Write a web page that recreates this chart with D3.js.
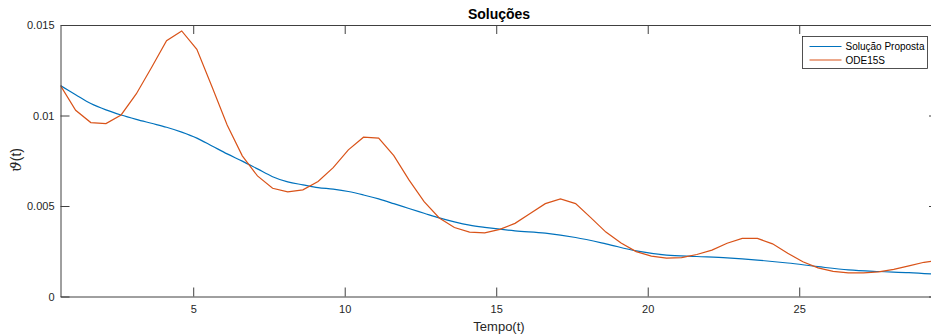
<!DOCTYPE html>
<html>
<head>
<meta charset="utf-8">
<script src="https://cdn.jsdelivr.net/npm/d3@7"></script>
<style>
  body { margin: 0; background: #fff; }
  text { font-family: "Liberation Sans", Arial, sans-serif; fill: #262626; }
</style>
</head>
<body>
<div id="chart"></div>
<script>
// time samples and values
var tOde = [0.62, 1.12, 1.62, 2.12, 2.62, 3.12, 3.62, 4.12, 4.62, 5.12, 5.62, 6.12, 6.62, 7.12, 7.62,
            8.12, 8.62, 9.12, 9.62, 10.12, 10.62, 11.12, 11.62, 12.12, 12.62, 13.12, 13.62, 14.12, 14.62,
            15.12, 15.62, 16.12, 16.62, 17.12, 17.62, 18.12, 18.62, 19.12, 19.62, 20.12, 20.62, 21.12,
            21.62, 22.12, 22.62, 23.12, 23.62, 24.12, 24.62, 25.12, 25.62, 26.12, 26.62, 27.12, 27.62,
            28.12, 28.62, 29.12, 29.4];
var ode15s = [0.01165, 0.01029, 0.00961, 0.00955, 0.01003, 0.01119, 0.01264, 0.01413, 0.01467, 0.01366,
              0.01159, 0.00948, 0.00777, 0.00666, 0.00598, 0.00578, 0.00589, 0.00635, 0.00712, 0.0081,
              0.0088, 0.00875, 0.00778, 0.00644, 0.00524, 0.00434, 0.00381, 0.00356, 0.00352, 0.00371,
              0.00404, 0.00459, 0.00513, 0.00539, 0.00513, 0.00436, 0.00356, 0.00295, 0.00248, 0.00223,
              0.00212, 0.00215, 0.00232, 0.00256, 0.00294, 0.00321, 0.00321, 0.00291, 0.00239, 0.00192,
              0.00158, 0.00139, 0.00131, 0.00131, 0.00136, 0.0015, 0.00169, 0.00189, 0.00195];

var tProp = [0.62, 1.12, 1.62, 2.12, 2.62, 3.12, 3.62, 4.12, 4.62, 5.12, 5.62, 6.12, 6.62, 7.12, 7.62,
             8.12, 8.62, 9.12, 9.62, 10.12, 10.62, 11.12, 11.62, 12.12, 12.62, 13.12, 13.62, 14.12, 14.62,
             15.62, 16.62, 17.62, 18.62, 19.62, 20.62, 21.62, 22.62, 23.62, 24.62, 25.62, 26.62, 27.62,
             28.62, 29.4];
var proposta = [0.01165, 0.01115, 0.01066, 0.01031, 0.01003, 0.00979, 0.00957, 0.00935, 0.00908, 0.00875,
                0.00832, 0.00788, 0.00748, 0.00705, 0.00662, 0.00633, 0.00617, 0.00602, 0.00593, 0.0058,
                0.00561, 0.00539, 0.00513, 0.00486, 0.0046, 0.00434, 0.00412, 0.00394, 0.00382, 0.00363,
                0.0035, 0.00326, 0.00291, 0.00252, 0.00229, 0.00221, 0.00213, 0.00201, 0.00185, 0.00165,
                0.00147, 0.00138, 0.00132, 0.00124];

var xTicks = [5, 10, 15, 20, 25];
var yTicks = [0, 0.005, 0.01, 0.015];
var yTickLabels = ["0", "0.005", "0.01", "0.015"];
var seriesNames = ["Solução Proposta", "ODE15S"];
var seriesColors = ["#0072BD", "#D95319"];

var W = 931, H = 336;
var plot = {left: 60.5, right: 938, top: 25, bottom: 296.5};

var x = d3.scaleLinear().domain([0.62, 29.58]).range([plot.left, plot.right]);
var y = d3.scaleLinear().domain([0, 0.015]).range([plot.bottom, plot.top]);

var svg = d3.select("#chart").append("svg")
    .attr("width", W)
    .attr("height", H);

svg.append("clipPath").attr("id", "plotclip")
  .append("rect")
    .attr("x", plot.left).attr("y", plot.top)
    .attr("width", plot.right - plot.left).attr("height", plot.bottom - plot.top);

// lines
var line = d3.line()
    .x(function(d) { return x(d[0]); })
    .y(function(d) { return y(d[1]); });

var propData = tProp.map(function(t, i) { return [t, proposta[i]]; });
var odeData = tOde.map(function(t, i) { return [t, ode15s[i]]; });

svg.append("path")
    .datum(propData)
    .attr("clip-path", "url(#plotclip)")
    .style("fill", "none")
    .style("stroke", seriesColors[0])
    .style("stroke-width", 1.2)
    .attr("d", line.curve(d3.curveCatmullRom));

svg.append("path")
    .datum(odeData)
    .attr("clip-path", "url(#plotclip)")
    .style("fill", "none")
    .style("stroke", seriesColors[1])
    .style("stroke-width", 1.2)
    .attr("d", line.curve(d3.curveLinear));

// axes (matlab box style, ticks inside)
var tickLen = 9;
var axisCol = "#404040";

svg.append("g")
    .attr("transform", "translate(0," + plot.bottom + ")")
    .call(d3.axisBottom(x).tickValues(xTicks).tickSizeInner(-tickLen).tickSizeOuter(0).tickPadding(8))
    .call(function(g) {
      g.select(".domain").attr("stroke", axisCol);
      g.selectAll(".tick line").attr("stroke", axisCol);
      g.selectAll("text").style("font-size", "11px").attr("fill", "#262626").attr("dy", "0.6em").attr("y", 10);
    });

svg.append("g")
    .attr("transform", "translate(0," + plot.top + ")")
    .call(d3.axisTop(x).tickValues(xTicks).tickSizeInner(-tickLen).tickSizeOuter(0).tickFormat(""))
    .call(function(g) {
      g.select(".domain").attr("stroke", axisCol);
      g.selectAll(".tick line").attr("stroke", axisCol);
    });

svg.append("g")
    .attr("transform", "translate(" + plot.left + ",0)")
    .call(d3.axisLeft(y).tickValues(yTicks).tickSizeInner(-tickLen).tickSizeOuter(0).tickPadding(6)
      .tickFormat(function(d, i) { return yTickLabels[i]; }))
    .call(function(g) {
      g.select(".domain").attr("stroke", axisCol);
      g.selectAll(".tick line").attr("stroke", axisCol);
      g.selectAll("text").style("font-size", "11px").attr("fill", "#262626");
    });

svg.append("g")
    .attr("transform", "translate(" + plot.right + ",0)")
    .call(d3.axisRight(y).tickValues(yTicks).tickSizeInner(-tickLen).tickSizeOuter(0).tickFormat(""))
    .call(function(g) {
      g.select(".domain").attr("stroke", axisCol);
      g.selectAll(".tick line").attr("stroke", axisCol);
    });

// title and axis labels
svg.append("text")
    .attr("x", 499)
    .attr("y", 19)
    .attr("text-anchor", "middle")
    .style("font-size", "14px")
    .style("font-weight", "bold")
    .style("fill", "#000")
    .text("Soluções");

svg.append("text")
    .attr("x", 499)
    .attr("y", 331)
    .attr("text-anchor", "middle")
    .style("font-size", "13px")
    .text("Tempo(t)");

var ylab = svg.append("text")
    .attr("text-anchor", "middle")
    .attr("transform", "translate(21,160)rotate(-90)")
    .style("font-size", "15px");
ylab.append("tspan")
    .style("font-family", "'DejaVu Serif', serif")
    .style("font-style", "italic")
    .text("ϑ");
ylab.append("tspan")
    .style("font-size", "14px")
    .text("(t)");

// legend
var lg = svg.append("g").attr("transform", "translate(802.5,36.5)");
lg.append("rect")
    .attr("width", 125)
    .attr("height", 32)
    .style("fill", "#fff")
    .style("stroke", "#262626")
    .style("stroke-width", 0.8);

seriesNames.forEach(function(name, i) {
  var yy = 10 + i * 13.5;
  lg.append("line")
      .attr("x1", 7).attr("x2", 39)
      .attr("y1", yy).attr("y2", yy)
      .style("stroke", seriesColors[i])
      .style("stroke-width", 1.2);
  lg.append("text")
      .attr("x", 43)
      .attr("y", yy + 3.5)
      .style("font-size", "10px")
      .style("fill", "#000")
      .text(name);
});
</script>
</body>
</html>
